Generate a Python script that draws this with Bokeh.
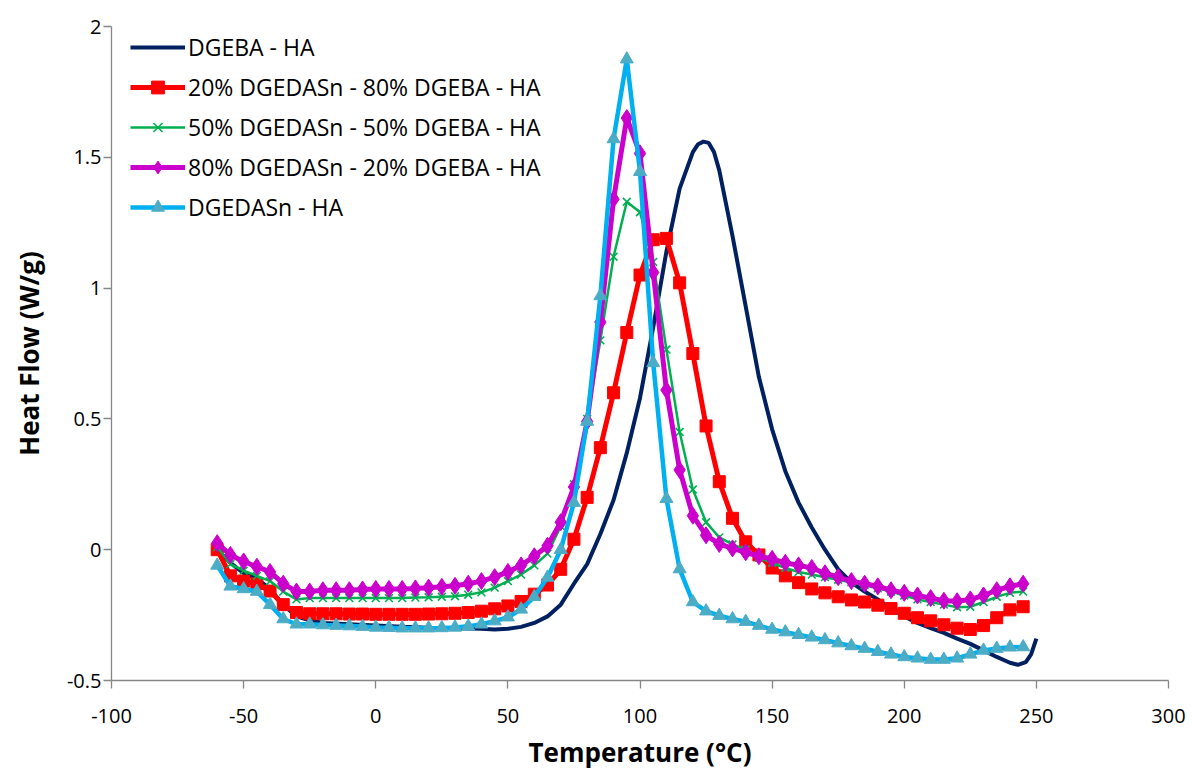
from bokeh.plotting import figure
from bokeh.models import FixedTicker, Legend, LegendItem, Range1d
from bokeh.embed import file_html
from bokeh.resources import INLINE

# ---------------- data ----------------
x_ticks = [-100, -50, 0, 50, 100, 150, 200, 250, 300]
x_tick_labels = ["-100", "-50", "0", "50", "100", "150", "200", "250", "300"]
y_ticks = [-0.5, 0, 0.5, 1, 1.5, 2]
y_tick_labels = ["-0.5", "0", "0.5", "1", "1.5", "2"]

series_names = [
    "DGEBA - HA",
    "20% DGEDASn - 80% DGEBA - HA",
    "50% DGEDASn - 50% DGEBA - HA",
    "80% DGEDASn - 20% DGEBA - HA",
    "DGEDASn - HA",
]

# DGEBA - HA (smooth line, no markers)
dgeba_t = [-60, -55, -50, -45, -40, -35, -30, -25, -20, -10, 0, 10, 20, 30, 40, 45,
           50, 55, 60, 65, 70, 75, 80, 85, 90, 95, 100, 105, 110, 115, 120, 122, 124,
           126, 128, 130, 135, 140, 145, 150, 155, 160, 165, 170, 175, 180, 185, 190,
           195, 200, 205, 210, 215, 220, 225, 230, 235, 240, 243, 246, 248, 250]
dgeba_hf = [0.0, -0.05, -0.09, -0.11, -0.15, -0.21, -0.255, -0.27, -0.28, -0.285, -0.29,
            -0.295, -0.298, -0.3, -0.302, -0.305, -0.302, -0.295, -0.28, -0.255, -0.21,
            -0.13, -0.055, 0.06, 0.19, 0.37, 0.58, 0.85, 1.14, 1.38, 1.52, 1.55, 1.56,
            1.555, 1.52, 1.45, 1.2, 0.93, 0.66, 0.46, 0.3, 0.18, 0.085, 0.0, -0.075,
            -0.125, -0.16, -0.19, -0.225, -0.255, -0.28, -0.3, -0.318, -0.34, -0.36,
            -0.385, -0.41, -0.432, -0.44, -0.43, -0.4, -0.34]

# marker series share the temperature grid -60 ... 245 step 5
temps = list(range(-60, 250, 5))

hf_20 = [0.0, -0.10, -0.12, -0.13, -0.158, -0.21, -0.24, -0.245, -0.245, -0.245,
         -0.246, -0.246, -0.247, -0.247, -0.247, -0.247, -0.246, -0.245, -0.243, -0.24,
         -0.235, -0.226, -0.215, -0.198, -0.17, -0.135, -0.075, 0.04, 0.20, 0.39,
         0.60, 0.83, 1.05, 1.185, 1.19, 1.02, 0.75, 0.473, 0.26, 0.12,
         0.03, -0.02, -0.07, -0.10, -0.126, -0.15, -0.165, -0.18, -0.192, -0.2,
         -0.212, -0.225, -0.243, -0.26, -0.272, -0.287, -0.3, -0.305, -0.29, -0.26,
         -0.23, -0.218]

hf_50 = [0.01, -0.055, -0.08, -0.10, -0.12, -0.16, -0.19, -0.185, -0.185, -0.185,
         -0.185, -0.185, -0.185, -0.185, -0.185, -0.183, -0.182, -0.18, -0.178, -0.172,
         -0.163, -0.145, -0.12, -0.095, -0.06, -0.015, 0.09, 0.25, 0.50, 0.80,
         1.12, 1.33, 1.29, 1.10, 0.765, 0.45, 0.23, 0.105, 0.047, 0.02,
         0.0, -0.03, -0.05, -0.07, -0.085, -0.095, -0.105, -0.115, -0.125, -0.135,
         -0.148, -0.16, -0.175, -0.19, -0.20, -0.21, -0.22, -0.218, -0.2, -0.18,
         -0.165, -0.16]

hf_80 = [0.025, -0.02, -0.045, -0.065, -0.085, -0.13, -0.16, -0.16, -0.155, -0.155,
         -0.155, -0.152, -0.15, -0.15, -0.15, -0.148, -0.145, -0.142, -0.138, -0.13,
         -0.12, -0.105, -0.085, -0.06, -0.025, 0.015, 0.105, 0.24, 0.49, 0.87,
         1.34, 1.65, 1.515, 1.06, 0.61, 0.305, 0.13, 0.055, 0.022, 0.005,
         -0.01, -0.025, -0.035, -0.05, -0.06, -0.07, -0.09, -0.105, -0.12, -0.13,
         -0.14, -0.155, -0.165, -0.175, -0.185, -0.195, -0.197, -0.19, -0.175, -0.155,
         -0.14, -0.13]

hf_100 = [-0.06, -0.14, -0.15, -0.16, -0.21, -0.265, -0.285, -0.285, -0.288, -0.29,
          -0.292, -0.294, -0.297, -0.298, -0.3, -0.3, -0.3, -0.299, -0.297, -0.293,
          -0.285, -0.273, -0.258, -0.228, -0.18, -0.106, 0.0, 0.18, 0.49, 0.97,
          1.57, 1.875, 1.445, 0.714, 0.195, -0.074, -0.2, -0.235, -0.252, -0.265,
          -0.275, -0.29, -0.305, -0.315, -0.325, -0.335, -0.345, -0.357, -0.368, -0.378,
          -0.39, -0.4, -0.41, -0.415, -0.42, -0.42, -0.415, -0.4, -0.385, -0.378,
          -0.373, -0.372]

# ---------------- figure ----------------
FONT = "Open Sans"
TOP, BOTTOM, FRAME_H = 26, 100, 654
LEFT, FRAME_W, RIGHT = 111, 1057, 21
p = figure(width=LEFT + FRAME_W + RIGHT, height=TOP + FRAME_H + BOTTOM,
           output_backend="svg", toolbar_location=None,
           x_range=Range1d(-100, 300), y_range=Range1d(-0.5, 2),
           min_border_left=LEFT, min_border_right=RIGHT, min_border_top=TOP,
           min_border_bottom=BOTTOM)
p.outline_line_color = None
p.xgrid.visible = False
p.ygrid.visible = False
p.background_fill_color = "white"
p.border_fill_color = "white"

for ax in (p.xaxis[0], p.yaxis[0]):
    ax.axis_line_color = "#868686"
    ax.axis_line_width = 1.3
    ax.major_tick_line_color = "#868686"
    ax.major_tick_line_width = 1.3
    ax.major_tick_in = 0
    ax.major_tick_out = 8
    ax.minor_tick_line_color = None
    ax.major_label_text_font = FONT
    ax.major_label_text_font_size = "20px"
    ax.major_label_text_color = "black"
    ax.axis_label_text_font = FONT
    ax.axis_label_text_font_size = "26px"
    ax.axis_label_text_font_style = "bold"
    ax.axis_label_text_color = "black"

p.xaxis.ticker = FixedTicker(ticks=x_ticks)
p.yaxis.ticker = FixedTicker(ticks=y_ticks)
p.xaxis.major_label_overrides = {v: s for v, s in zip(x_ticks, x_tick_labels)}
p.yaxis.major_label_overrides = {v: s for v, s in zip(y_ticks, y_tick_labels)}
p.xaxis.axis_label = "Temperature (°C)"
p.yaxis.axis_label = "Heat Flow (W/g)"
p.xaxis.major_label_standoff = 20
p.xaxis.axis_label_standoff = 8
p.yaxis.major_label_standoff = 2
p.yaxis.axis_label_standoff = 17

# ---------------- series ----------------
r0 = p.line(dgeba_t, dgeba_hf, line_color="#002060", line_width=4)

l1 = p.line(temps, hf_20, line_color="#ff0000", line_width=5)
m1 = p.scatter(temps, hf_20, marker="square", size=12, fill_color="#ff0000",
               line_color="#ff0000")

l2 = p.line(temps, hf_50, line_color="#00b050", line_width=2.5)
m2 = p.scatter(temps, hf_50, marker="x", size=11, line_color="#00b050", line_width=1.6)

l3 = p.line(temps, hf_80, line_color="#cc00cc", line_width=5)
m3 = p.scatter(temps, hf_80, marker="diamond", size=17, fill_color="#cc00cc",
               line_color="#cc00cc")

l4 = p.line(temps, hf_100, line_color="#00b0f0", line_width=4.5)
m4 = p.scatter(temps, hf_100, marker="triangle", size=13, fill_color="#4bacc6",
               line_color="#4bacc6")

items = [
    LegendItem(label=series_names[0], renderers=[r0]),
    LegendItem(label=series_names[1], renderers=[l1, m1]),
    LegendItem(label=series_names[2], renderers=[l2, m2]),
    LegendItem(label=series_names[3], renderers=[l3, m3]),
    LegendItem(label=series_names[4], renderers=[l4, m4]),
]
ITEM_H = 32
GAP = 8
LEG_H = 5 * ITEM_H + 4 * GAP
legend = Legend(items=items, location=(19, FRAME_H - 5 - LEG_H))
legend.border_line_color = None
legend.background_fill_alpha = 0
legend.padding = 0
legend.margin = 0
legend.glyph_width = 55
legend.glyph_height = ITEM_H
legend.label_height = ITEM_H
legend.spacing = GAP
legend.label_standoff = 3
legend.label_text_font = FONT
legend.label_text_font_size = "23px"
legend.label_text_color = "black"
p.add_layout(legend, "center")

open("out.html", "w").write(file_html(p, INLINE))
